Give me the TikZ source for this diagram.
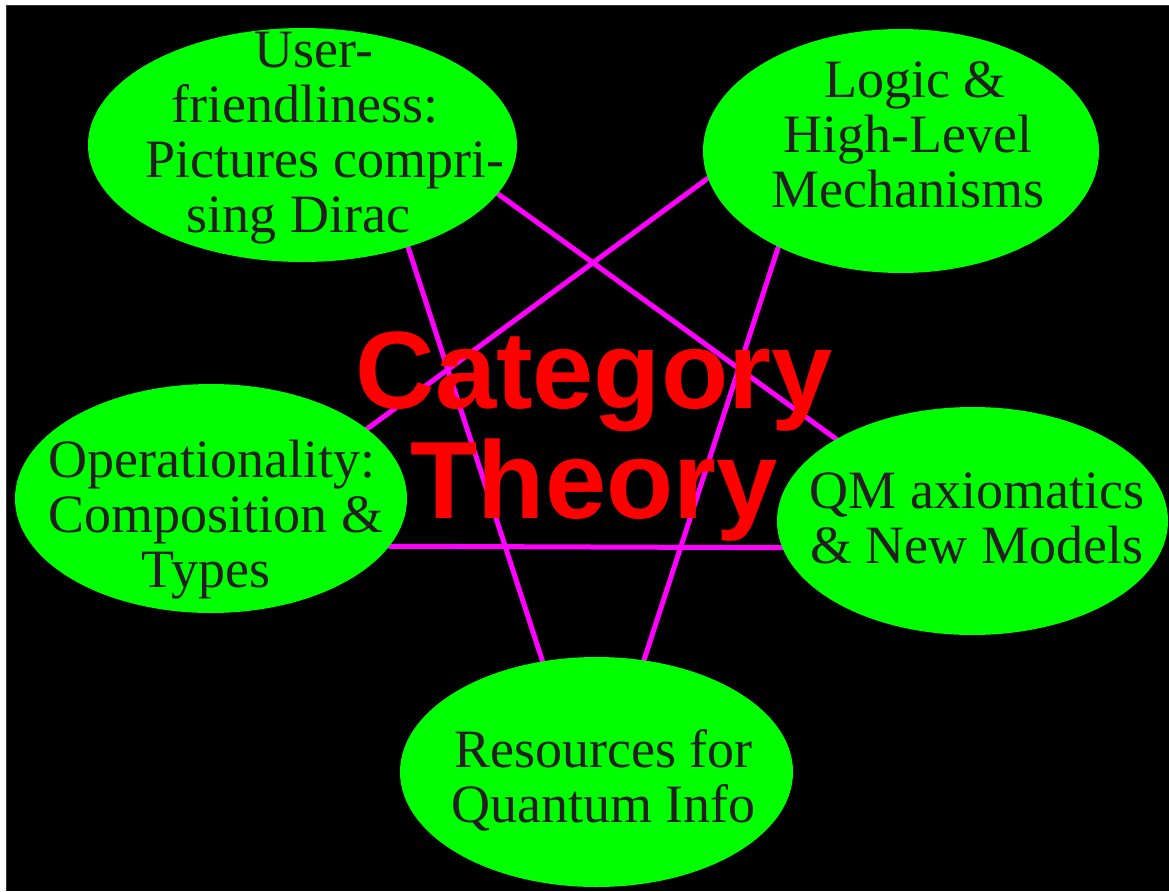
\documentclass[tikz,border=0pt]{standalone}
\usepackage{fontspec}
\setmainfont{Liberation Serif}
\newfontfamily\titlefont{Liberation Sans}
\usetikzlibrary{shapes.geometric}
\pgfdeclarelayer{bg}
\pgfdeclarelayer{edges}
\pgfsetlayers{bg,edges,main}
\definecolor{ink}{HTML}{231F20}
\definecolor{nodegreen}{HTML}{00FF00}
\definecolor{linkmag}{HTML}{FF00FF}
\definecolor{titlered}{HTML}{FF0000}
\definecolor{edgegray}{HTML}{333333}
\newcommand\mypad[1]{\rule{#1}{0pt}}
\tikzset{
  topic/.style={ellipse, fill=nodegreen, draw=none, inner sep=0pt, outer sep=0pt},
  topictext/.style={anchor=base, align=center, text=ink, inner sep=0pt,
    font=\fontsize{54}{55}\selectfont},
  titletext/.style={anchor=base, align=center, text=titlered, inner sep=0pt,
    font=\titlefont\bfseries\fontsize{110}{110}\selectfont},
  link/.style={draw=linkmag, line width=5pt, shorten <=-12pt, shorten >=-12pt},
}
\begin{document}
\begin{tikzpicture}[x=1pt,y=-1pt]
\useasboundingbox (0,0) rectangle (1169,891);
\begin{pgfonlayer}{bg}
  \fill[white] (0,0) rectangle (1169,891);
  \fill[black] (6,5) rectangle (1169,891);
  \draw[edgegray, line width=1pt] (6.5,891) -- (6.5,5.5) -- (1169,5.5);
\end{pgfonlayer}

\node[topic, minimum width=429pt, minimum height=234pt] (user) at (302.5,145) {};
\node[topic, minimum width=396pt, minimum height=244pt] (logic) at (901,151) {};
\node[topic, minimum width=392pt, minimum height=229pt] (oper) at (211,498.5) {};
\node[topic, minimum width=391pt, minimum height=228pt] (qm) at (972.5,521) {};
\node[topic, minimum width=393pt, minimum height=230pt] (res) at (596.5,772) {};

% base anchor = baseline of the last line
\node[topictext] (user-t) at (305,232)
  {\mypad{18pt}User-\\friendliness:\\\mypad{40pt}Pictures compri-\\sing Dirac\mypad{13pt}};
\node[topictext] (logic-t) at (908,207)
  {\mypad{14pt}Logic \&\\High-Level\\Mechanisms};
\node[topictext] (oper-t) at (212,587)
  {Operationality:\\\mypad{8pt}Composition \&\\Types\mypad{12pt}};
\node[topictext] (qm-t) at (977,563)
  {QM axiomatics\\\& New Models};
\node[topictext] (res-t) at (603.5,822)
  {Resources for\\Quantum Info};

\node[titletext] (title) at (594,518) {Category\\Theory};

\begin{pgfonlayer}{edges}
  \draw[link] (user.346.48) -- (qm.149.86);
  \draw[link] (user.316.13) -- (res.116.07);
  \draw[link] (logic.188.49) -- (oper.24.75);
  \draw[link] (logic.218.28) -- (res.67.63);
  \draw[link] (oper.345.2) -- (qm.188.15);
\end{pgfonlayer}
\end{tikzpicture}
\end{document}
